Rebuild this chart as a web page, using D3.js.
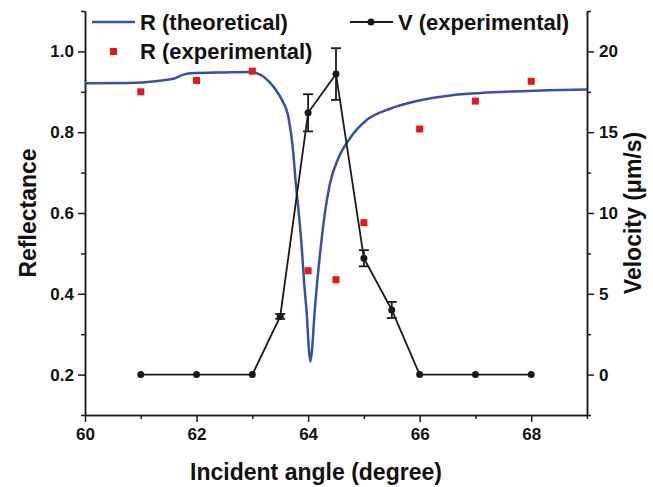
<!DOCTYPE html>
<html>
<head>
<meta charset="utf-8">
<script src="https://cdn.jsdelivr.net/npm/d3@7"></script>
<style>
    body { margin: 0; background: #fff; }
    text { font-family: "Liberation Sans", Arial, sans-serif; font-weight: bold; fill: #111; }
</style>
</head>
<body>
<div id="graph"></div>
<script>
// theoretical reflectance curve
const angleTheory = [60.0, 60.8, 61.3, 61.6, 61.75, 61.9, 62.5, 62.95, 63.15, 63.3, 63.42, 63.53, 63.65, 63.73, 63.78, 63.84, 63.89, 63.93, 63.98, 64.01, 64.04, 64.07, 64.11, 64.16, 64.22, 64.29, 64.39, 64.54, 64.75, 65.05, 65.47, 65.95, 66.55, 67.1, 67.7, 68.3, 69.0];
const reflTheory = [0.921, 0.922, 0.927, 0.933, 0.942, 0.946, 0.948, 0.949, 0.942, 0.925, 0.905, 0.88, 0.835, 0.755, 0.672, 0.589, 0.507, 0.425, 0.342, 0.27, 0.232, 0.26, 0.342, 0.425, 0.507, 0.589, 0.672, 0.735, 0.785, 0.83, 0.858, 0.877, 0.891, 0.897, 0.901, 0.904, 0.906];

// experimental reflectance
const angleExp = [61, 62, 63, 64, 64.5, 65, 66, 67, 68];
const reflExp = [0.90, 0.928, 0.951, 0.457, 0.435, 0.576, 0.808, 0.877, 0.926];

// experimental velocity
const angleVel = [61, 62, 63, 63.5, 64, 64.5, 65, 65.5, 66, 67, 68];
const velocity = [0, 0, 0, 3.6, 16.2, 18.6, 7.2, 4.0, 0, 0, 0];
const velocityErr = [0, 0, 0, 0.15, 1.15, 1.6, 0.5, 0.5, 0, 0, 0];

const xTicks = [60, 62, 64, 66, 68];
const xMinor = [61, 63, 65, 67, 69];
const reflTicks = [0.2, 0.4, 0.6, 0.8, 1.0];
const reflMinor = [0.1, 0.3, 0.5, 0.7, 0.9, 1.1];
const velTicks = [0, 5, 10, 15, 20];
const velMinor = [-2.5, 2.5, 7.5, 12.5, 17.5, 22.5];

const blue = "#3352a6", red = "#e3171c", ink = "#1a1a1a";

// note: "top" is taken by window.top, so plot edges get their own names
var width = 653, height = 487;
var plotLeft = 85, plotRight = 587, plotTop = 11, plotBottom = 415;

var svg = d3.select("#graph")
    .append("svg")
    .attr("width", width)
    .attr("height", height);

var x = d3.scaleLinear().domain([60, 69]).range([plotLeft, plotRight]);
var yR = d3.scaleLinear().domain([0.1, 1.1]).range([plotBottom, plotTop]);
var yV = d3.scaleLinear().domain([-2.5, 22.5]).range([plotBottom, plotTop]);

function styleAxis(g) {
    g.selectAll("path, line").attr("stroke", ink).attr("stroke-width", 1.5);
    g.selectAll("text").style("font-size", "17px").attr("fill", ink);
}

// axes (major + minor ticks)
svg.append("g").attr("transform", "translate(0," + plotBottom + ")")
    .call(d3.axisBottom(x).tickValues(xTicks).tickSize(7).tickSizeOuter(0).tickPadding(6).tickFormat(d3.format("d")))
    .call(styleAxis);
svg.append("g").attr("transform", "translate(0," + plotBottom + ")")
    .call(d3.axisBottom(x).tickValues(xMinor).tickSize(4).tickSizeOuter(0).tickFormat(""))
    .call(styleAxis);

svg.append("g").attr("transform", "translate(" + plotLeft + ",0)")
    .call(d3.axisLeft(yR).tickValues(reflTicks).tickSize(7).tickSizeOuter(0).tickPadding(4).tickFormat(d3.format(".1f")))
    .call(styleAxis);
svg.append("g").attr("transform", "translate(" + plotLeft + ",0)")
    .call(d3.axisLeft(yR).tickValues(reflMinor).tickSize(4).tickSizeOuter(0).tickFormat(""))
    .call(styleAxis);

svg.append("g").attr("transform", "translate(" + plotRight + ",0)")
    .call(d3.axisRight(yV).tickValues(velTicks).tickSize(7).tickSizeOuter(0).tickPadding(5).tickFormat(d3.format("d")))
    .call(styleAxis);
svg.append("g").attr("transform", "translate(" + plotRight + ",0)")
    .call(d3.axisRight(yV).tickValues(velMinor).tickSize(4).tickSizeOuter(0).tickFormat(""))
    .call(styleAxis);

// axis titles
svg.append("text")
    .attr("x", 316).attr("y", 480)
    .attr("text-anchor", "middle")
    .style("font-size", "23px")
    .text("Incident angle (degree)");
svg.append("text")
    .attr("transform", "translate(36,213) rotate(-90)")
    .attr("text-anchor", "middle")
    .style("font-size", "23px")
    .text("Reflectance");
svg.append("text")
    .attr("transform", "translate(641,213) rotate(-90)")
    .attr("text-anchor", "middle")
    .style("font-size", "23px")
    .text("Velocity (\u03bcm/s)");

// theoretical curve
var line = d3.line()
    .x(function (d, i) { return x(angleTheory[i]); })
    .y(function (d) { return yR(d); })
    .curve(d3.curveMonotoneX);

svg.append("path")
    .datum(reflTheory)
    .attr("d", line)
    .attr("fill", "none")
    .attr("stroke", blue)
    .attr("stroke-width", 2.5);

// velocity line + error bars + dots
var vLine = d3.line()
    .x(function (d, i) { return x(angleVel[i]); })
    .y(function (d) { return yV(d); });

svg.append("path")
    .datum(velocity)
    .attr("d", vLine)
    .attr("fill", "none")
    .attr("stroke", ink)
    .attr("stroke-width", 1.8);

var errIdx = d3.range(velocity.length).filter(function (i) { return velocityErr[i] > 0; });

var err = svg.selectAll("g.err")
    .data(errIdx)
    .enter()
    .append("g")
    .attr("class", "err");

err.append("line")
    .attr("x1", function (i) { return x(angleVel[i]); })
    .attr("x2", function (i) { return x(angleVel[i]); })
    .attr("y1", function (i) { return yV(velocity[i] + velocityErr[i]); })
    .attr("y2", function (i) { return yV(velocity[i] - velocityErr[i]); })
    .attr("stroke", ink).attr("stroke-width", 1.8);

[1, -1].forEach(function (s) {
    err.append("line")
        .attr("x1", function (i) { return x(angleVel[i]) - 5; })
        .attr("x2", function (i) { return x(angleVel[i]) + 5; })
        .attr("y1", function (i) { return yV(velocity[i] + s * velocityErr[i]); })
        .attr("y2", function (i) { return yV(velocity[i] + s * velocityErr[i]); })
        .attr("stroke", ink).attr("stroke-width", 1.8);
});

svg.selectAll("circle.vel")
    .data(velocity)
    .enter()
    .append("circle")
    .attr("class", "vel")
    .attr("cx", function (d, i) { return x(angleVel[i]); })
    .attr("cy", function (d) { return yV(d); })
    .attr("r", 3.5)
    .attr("fill", ink);

// experimental reflectance squares
svg.selectAll("rect.rexp")
    .data(reflExp)
    .enter()
    .append("rect")
    .attr("class", "rexp")
    .attr("x", function (d, i) { return x(angleExp[i]) - 3.5; })
    .attr("y", function (d) { return yR(d) - 3.5; })
    .attr("width", 7)
    .attr("height", 7)
    .attr("fill", red);

// legend
var legend = svg.append("g");
legend.append("line").attr("x1", 92).attr("x2", 135).attr("y1", 22).attr("y2", 22)
    .attr("stroke", blue).attr("stroke-width", 2.5);
legend.append("text").attr("x", 140).attr("y", 30).style("font-size", "22px").text("R (theoretical)");
legend.append("rect").attr("x", 110).attr("y", 48).attr("width", 7).attr("height", 7).attr("fill", red);
legend.append("text").attr("x", 140).attr("y", 59).style("font-size", "22px").text("R (experimental)");
legend.append("line").attr("x1", 350).attr("x2", 393).attr("y1", 22).attr("y2", 22)
    .attr("stroke", ink).attr("stroke-width", 1.8);
legend.append("circle").attr("cx", 371).attr("cy", 22).attr("r", 3.5).attr("fill", ink);
legend.append("text").attr("x", 398).attr("y", 30).style("font-size", "22px").text("V (experimental)");
</script>
</body>
</html>
